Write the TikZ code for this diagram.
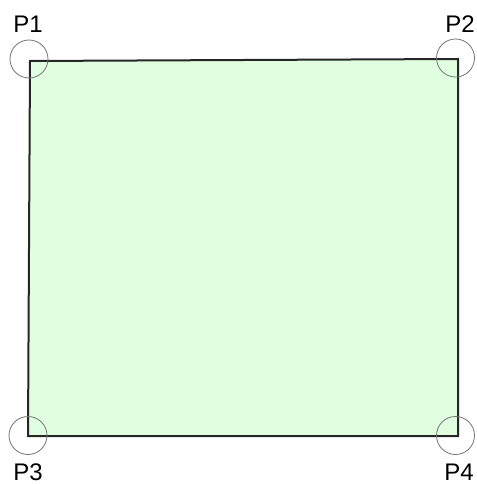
\documentclass[tikz,border=0pt]{standalone}
\usepackage{fontspec}
\setmainfont{Liberation Sans}
\usepackage{tikz}
\usetikzlibrary{positioning, calc}

\begin{document}
\begin{tikzpicture}[
        x=1pt, y=-1pt,
        % Styles for the plan
        area/.style={
            draw=black!85, line width=2pt, fill=green!12!white
        },
        marker/.style={
            circle, draw=black!55, line width=0.8pt,
            minimum size=38pt, inner sep=0pt
        },
        pointlabel/.style={
            font=\fontsize{24}{24}\selectfont, inner sep=0pt
        }
    ]

    % 0. FRAME
    \useasboundingbox (0,0) rectangle (476,484);

    % 1. CORNERS
    \coordinate (c1) at (30, 61);
    \coordinate (c2) at (458, 59);
    \coordinate (c3) at (28, 436);
    \coordinate (c4) at (458, 436);

    % 2. AREA
    \draw[area] (c1) -- (c2) -- (c4) -- (c3) -- cycle;

    % 3. MARKERS AROUND THE CORNERS
    \node[marker] (m1) at (29, 59) {};
    \node[marker] (m2) at (455.5, 58) {};
    \node[marker] (m3) at (28, 435.5) {};
    \node[marker] (m4) at (455.5, 435.5) {};

    % 4. LABELS
    \node[pointlabel] (P1) at (28, 24) {P1};
    \node[pointlabel] (P2) at (460, 24) {P2};
    \node[pointlabel] (P3) at (28, 472) {P3};
    \node[pointlabel] (P4) at (459, 472) {P4};

\end{tikzpicture}
\end{document}
